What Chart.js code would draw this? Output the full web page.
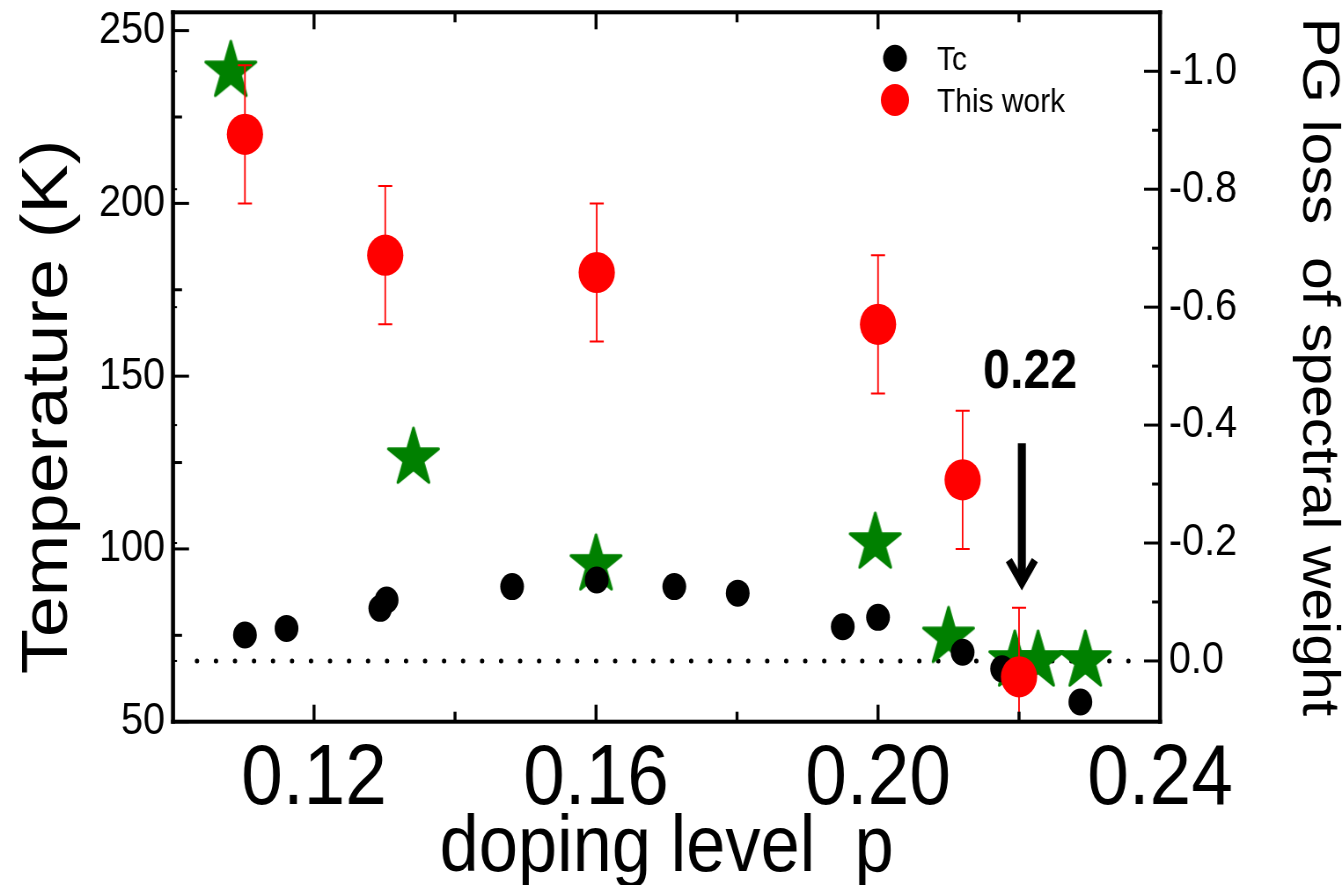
<!DOCTYPE html>
<html><head><meta charset="utf-8">
<script src="https://cdn.jsdelivr.net/npm/chart.js@4.4.1/dist/chart.umd.min.js"></script>
<style>
html,body{margin:0;padding:0;background:#fff;overflow:hidden;width:1344px;height:885px;}
#wrap{position:absolute;left:0;top:0;width:1527px;height:885px;transform:scaleX(0.88);transform-origin:0 0;}
canvas{display:block;}
</style></head><body>
<div id="wrap"><canvas id="c" width="1527" height="885"></canvas></div>
<script>
// ---------- data ----------
const tcP   = [0.1102, 0.1161, 0.1294, 0.1303, 0.1481, 0.1601, 0.1711, 0.1801, 0.1950, 0.2000, 0.2120, 0.2176, 0.2287];
const tcT   = [75.1, 77.0, 82.8, 85.2, 89.1, 91.0, 89.1, 87.2, 77.5, 80.2, 70.1, 65.3, 55.7];
const workP = [0.1102, 0.1301, 0.1601, 0.2000, 0.2120, 0.2200];
const workT = [220, 185, 180, 165, 120, 63];
const workErr = [20, 20, 20, 20, 20, 20];
const pgP    = [0.1082, 0.1341, 0.1600, 0.1996, 0.2100, 0.2194, 0.2227, 0.2294];
const pgLoss = [-1.0, -0.344, -0.163, -0.200, -0.040, 0.0, 0.0, 0.0];
const refLineP  = [0.1034, 0.2374];
const refLinePG = [0, 0];
const xTickVals = [0.12, 0.16, 0.20, 0.24];
const xTickLabels = ['0.12', '0.16', '0.20', '0.24'];
const xMinorVals = [0.14, 0.18, 0.22];
const tTickVals = [50, 100, 150, 200, 250];
const tTickLabels = ['50', '100', '150', '200', '250'];
const tMinorVals = [75, 125, 175, 225];
const pgTickVals = [-1.0, -0.8, -0.6, -0.4, -0.2, 0.0];
const pgTickLabels = ['-1.0', '-0.8', '-0.6', '-0.4', '-0.2', '0.0'];
const pgMinorVals = [-0.9, -0.7, -0.5, -0.3, -0.1];
const seriesNames = ['This work', 'Tc', 'PG loss', 'zero'];
const annot = { text: '0.22', p: 0.2149, T: 146.5, arrowP: 0.2204, arrowFromT: 130.6, arrowJoinT: 90.1 };

// ---------- styles ----------
const SX = 0.88;
const FONT = "'Liberation Sans', Arial, Helvetica, sans-serif";

function starCanvas(R, color) {
  const size = Math.ceil(2 * R + 8);
  const c = document.createElement('canvas');
  c.width = size; c.height = size;
  const g = c.getContext('2d');
  const cx = size / 2, cy = size / 2;
  g.beginPath();
  for (let i = 0; i < 10; i++) {
    const r = i % 2 === 0 ? R : R * 0.382;
    const a = -Math.PI / 2 + i * Math.PI / 5;
    g.lineTo(cx + r * Math.cos(a), cy + r * Math.sin(a));
  }
  g.closePath();
  g.fillStyle = color; g.fill();
  g.lineJoin = 'round'; g.lineWidth = 3; g.strokeStyle = color; g.stroke();
  return c;
}
const starImg = starCanvas(30, '#008000');

function lookup(vals, labels, v) {
  for (let i = 0; i < vals.length; i++) if (Math.abs(vals[i] - v) < 1e-6) return labels[i];
  return '';
}
function noPad(s) { s.paddingTop = 0; s.paddingBottom = 0; s.paddingLeft = 0; s.paddingRight = 0; }

const deco = {
  id: 'deco',
  beforeDatasetDraw(chart, args) {
    if (args.index !== 0) return;
    const ctx = chart.ctx, xs = chart.scales.x, ys = chart.scales.y, a = chart.chartArea;
    ctx.save();
    ctx.beginPath(); ctx.rect(a.left, a.top, a.right - a.left, a.bottom - a.top); ctx.clip();
    ctx.strokeStyle = '#ff0000';
    for (let i = 0; i < workP.length; i++) {
      const x = xs.getPixelForValue(workP[i]);
      const y1 = ys.getPixelForValue(workT[i] + workErr[i]);
      const y2 = ys.getPixelForValue(workT[i] - workErr[i]);
      ctx.lineWidth = 1.8;
      ctx.beginPath(); ctx.moveTo(x, y1); ctx.lineTo(x, y2); ctx.stroke();
      ctx.lineWidth = 2;
      ctx.beginPath(); ctx.moveTo(x - 8, y1); ctx.lineTo(x + 8, y1);
      ctx.moveTo(x - 8, y2); ctx.lineTo(x + 8, y2); ctx.stroke();
    }
    ctx.restore();
  },
  afterDraw(chart) {
    const ctx = chart.ctx, xs = chart.scales.x, ys = chart.scales.y, y2s = chart.scales.y2, a = chart.chartArea;
    ctx.save();
    ctx.fillStyle = '#000'; ctx.strokeStyle = '#000';
    // frame
    const lw = 4, lwv = 4 / SX;
    ctx.fillRect(a.left - lwv / 2, a.top - lw / 2, a.right - a.left + lwv, lw);
    ctx.fillRect(a.left - lwv / 2, a.bottom - lw / 2, a.right - a.left + lwv, lw);
    ctx.fillRect(a.left - lwv / 2, a.top - lw / 2, lwv, a.bottom - a.top + lw);
    ctx.fillRect(a.right - lwv / 2, a.top - lw / 2, lwv, a.bottom - a.top + lw);
    // x ticks (bottom & top), inward
    const tw = 3 / SX;
    const vt = (v, len) => {
      const x = xs.getPixelForValue(v);
      ctx.fillRect(x - tw / 2, a.bottom - len, tw, len);
      ctx.fillRect(x - tw / 2, a.top, tw, len);
    };
    xTickVals.forEach(v => vt(v, 17));
    xMinorVals.forEach(v => vt(v, 10));
    // left ticks
    const ht = 3;
    tTickVals.forEach(v => { const y = ys.getPixelForValue(v); ctx.fillRect(a.left, y - ht / 2, 16 / SX, ht); });
    tMinorVals.forEach(v => { const y = ys.getPixelForValue(v); ctx.fillRect(a.left, y - ht / 2, 9 / SX, ht); });
    pgTickVals.forEach(v => { const y = y2s.getPixelForValue(v); ctx.fillRect(a.left, y - 1, 4 / SX, 2); });
    // right ticks
    pgTickVals.forEach(v => { const y = y2s.getPixelForValue(v); ctx.fillRect(a.right - 16 / SX, y - ht / 2, 16 / SX, ht); });
    pgMinorVals.forEach(v => { const y = y2s.getPixelForValue(v); ctx.fillRect(a.right - 8 / SX, y - ht / 2, 8 / SX, ht); });

    // legend
    ctx.beginPath(); ctx.fillStyle = '#000'; ctx.arc(1017, 58.3, 13.5, 0, Math.PI * 2); ctx.fill();
    ctx.beginPath(); ctx.fillStyle = '#ff0000'; ctx.arc(1017, 100, 16, 0, Math.PI * 2); ctx.fill();
    ctx.fillStyle = '#000';
    ctx.font = '34px ' + FONT; ctx.textAlign = 'left'; ctx.textBaseline = 'alphabetic';
    ctx.fillText(seriesNames[1], 1064.8, 70);
    ctx.fillText(seriesNames[0], 1064.8, 111.7);

    // annotation
    ctx.font = 'bold 55px ' + FONT;
    ctx.fillText(annot.text, xs.getPixelForValue(annot.p), ys.getPixelForValue(annot.T));
    const ax = xs.getPixelForValue(annot.arrowP);
    const yTop = ys.getPixelForValue(annot.arrowFromT);
    const yJoin = ys.getPixelForValue(annot.arrowJoinT);
    ctx.lineWidth = 8 / SX;
    ctx.lineCap = 'butt';
    ctx.beginPath(); ctx.moveTo(ax, yTop); ctx.lineTo(ax, yJoin - 4); ctx.stroke();
    ctx.lineWidth = 8;
    ctx.lineJoin = 'miter'; ctx.miterLimit = 10;
    ctx.beginPath(); ctx.moveTo(ax - 14.8, yJoin - 23); ctx.lineTo(ax, yJoin); ctx.lineTo(ax + 14.8, yJoin - 23); ctx.stroke();

    // left axis title
    ctx.save();
    ctx.translate(76, 407);
    ctx.rotate(-Math.PI / 2);
    ctx.font = '74px ' + FONT; ctx.textAlign = 'center'; ctx.textBaseline = 'alphabetic';
    ctx.fillText('Temperature (K)', 0, 0);
    ctx.restore();
    ctx.restore();
  }
};

new Chart(document.getElementById('c'), {
  type: 'scatter',
  data: {
    datasets: [
      { label: seriesNames[0], data: workP.map((p, i) => ({ x: p, y: workT[i] })), xAxisID: 'x', yAxisID: 'y',
        pointStyle: 'circle', pointRadius: 20.6, backgroundColor: '#ff0000', borderWidth: 0, order: 0 },
      { label: seriesNames[1], data: tcP.map((p, i) => ({ x: p, y: tcT[i] })), xAxisID: 'x', yAxisID: 'y',
        pointStyle: 'circle', pointRadius: 13.5, backgroundColor: '#000000', borderWidth: 0, order: 1 },
      { label: seriesNames[2], data: pgP.map((p, i) => ({ x: p, y: pgLoss[i] })), xAxisID: 'x', yAxisID: 'y2',
        pointStyle: starImg, pointRadius: 30, backgroundColor: '#008000', borderWidth: 0, order: 2 },
      { label: seriesNames[3], type: 'line', data: refLineP.map((p, i) => ({ x: p, y: refLinePG[i] })), xAxisID: 'x', yAxisID: 'y2',
        borderColor: '#000', borderWidth: 5, borderDash: [0, 21.6], borderCapStyle: 'round', pointRadius: 0, fill: false, order: 3 }
    ]
  },
  options: {
    responsive: false, animation: false, devicePixelRatio: 1,
    layout: { autoPadding: false, padding: { top: 12.3, left: 0, right: 0, bottom: 0 } },
    plugins: { legend: { display: false }, tooltip: { enabled: false } },
    scales: {
      x: {
        type: 'linear', position: 'bottom', min: 0.10, max: 0.24,
        grid: { display: false, drawTicks: false }, border: { display: false },
        afterBuildTicks: s => { s.ticks = xTickVals.map(v => ({ value: v })); },
        afterFit: s => { s.height = 163.3; noPad(s); },
        ticks: { autoSkip: false, maxRotation: 0, padding: 8, color: '#000', font: { family: FONT, size: 85 },
          callback: v => lookup(xTickVals, xTickLabels, v) },
        title: { display: true, text: 'doping level  p', color: '#000', font: { family: FONT, size: 80, lineHeight: 0.75 }, padding: { top: 0, bottom: 6 } }
      },
      y: {
        type: 'linear', position: 'left', min: 50, max: 255.3,
        grid: { display: false, drawTicks: false }, border: { display: false },
        afterBuildTicks: s => { s.ticks = tTickVals.map(v => ({ value: v })); },
        afterFit: s => { s.width = 196.6; noPad(s); },
        ticks: { autoSkip: false, padding: 9, color: '#000', font: { family: FONT, size: 45 },
          callback: v => lookup(tTickVals, tTickLabels, v) }
      },
      y2: {
        type: 'linear', position: 'right', min: -1.1, max: 0.103, reverse: true,
        grid: { display: false, drawTicks: false }, border: { display: false },
        afterBuildTicks: s => { s.ticks = pgTickVals.map(v => ({ value: v })); },
        afterFit: s => { s.width = 208.8; noPad(s); },
        ticks: { autoSkip: false, padding: 10, color: '#000', font: { family: FONT, size: 45 },
          callback: v => lookup(pgTickVals, pgTickLabels, v) },
        title: { display: true, text: 'PG loss  of spectral weight', color: '#000', font: { family: FONT, size: 59, lineHeight: 1 }, padding: { top: 0, bottom: 0 } }
      }
    }
  },
  plugins: [deco]
});
</script>
</body></html>
